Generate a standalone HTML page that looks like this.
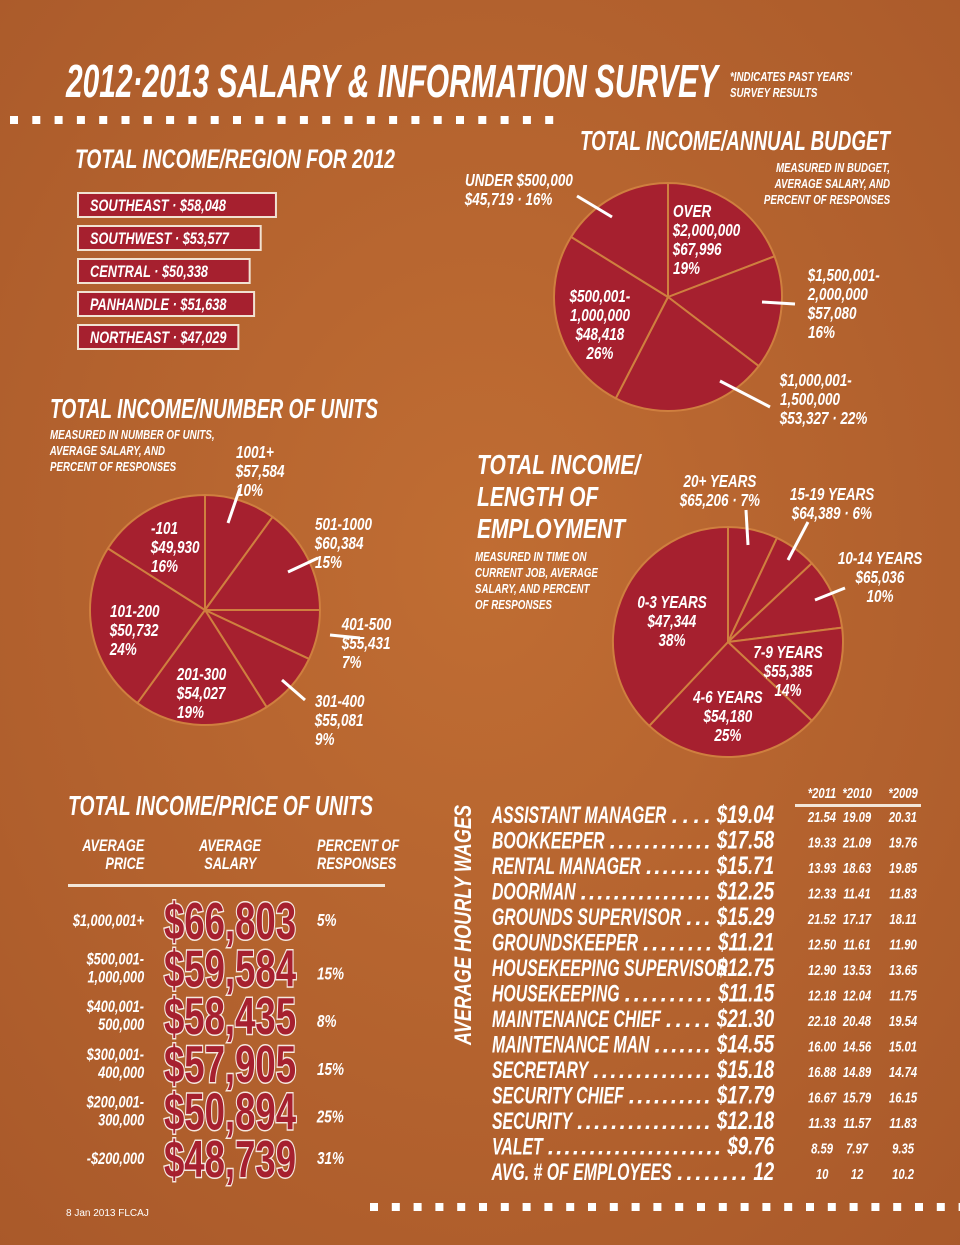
<!DOCTYPE html>
<html><head><meta charset="utf-8">
<style>
html,body{margin:0;padding:0;background:#b9662f;}
svg{display:block;}
text{font-family:"Liberation Sans Narrow","Liberation Sans",sans-serif;font-weight:bold;font-style:italic;fill:#fff;
 transform-box:fill-box;transform-origin:left center;transform:scaleX(.75);}
text[text-anchor="end"]{transform-origin:right center;}
text[text-anchor="middle"]{transform-origin:center center;}
text.nt{transform:none;}
text.wj{transform:scaleX(.66);}
</style></head>
<body>
<svg id="c" width="960" height="1245" viewBox="0 0 960 1245" xmlns="http://www.w3.org/2000/svg">
<defs>
<radialGradient id="bg" cx="50%" cy="45%" r="75%">
<stop offset="0" stop-color="#c06d33"/><stop offset="1" stop-color="#a9592a"/>
</radialGradient>
</defs>
<rect width="960" height="1245" fill="url(#bg)"/>
<g id="dots1"></g>
<g id="dots2"></g>

<text class="nt" x="66" y="97" font-size="46" textLength="652" lengthAdjust="spacingAndGlyphs">2012·2013 SALARY &amp; INFORMATION SURVEY</text>
<text x="730" y="81" font-size="13">*INDICATES PAST YEARS'</text>
<text x="730" y="97" font-size="13">SURVEY RESULTS</text>

<text class="nt" x="75" y="168" font-size="27" textLength="320" lengthAdjust="spacingAndGlyphs">TOTAL INCOME/REGION FOR 2012</text>
<g id="regions"></g>

<text class="nt" x="580" y="150" font-size="28" textLength="310" lengthAdjust="spacingAndGlyphs">TOTAL INCOME/ANNUAL BUDGET</text>
<g font-size="13">
<text x="890" y="172" text-anchor="end">MEASURED IN BUDGET,</text>
<text x="890" y="188" text-anchor="end">AVERAGE SALARY, AND</text>
<text x="890" y="204" text-anchor="end">PERCENT OF RESPONSES</text>
</g>
<g id="pie2"></g>

<text class="nt" x="50" y="418" font-size="28" textLength="328" lengthAdjust="spacingAndGlyphs">TOTAL INCOME/NUMBER OF UNITS</text>
<g font-size="13">
<text x="50" y="439">MEASURED IN NUMBER OF UNITS,</text>
<text x="50" y="455">AVERAGE SALARY, AND</text>
<text x="50" y="471">PERCENT OF RESPONSES</text>
</g>
<g id="pie1"></g>

<g font-size="28">
<text x="477" y="474">TOTAL INCOME/</text>
<text x="477" y="506">LENGTH OF</text>
<text x="477" y="538">EMPLOYMENT</text>
</g>
<g font-size="13">
<text x="475" y="561">MEASURED IN TIME ON</text>
<text x="475" y="577">CURRENT JOB, AVERAGE</text>
<text x="475" y="593">SALARY, AND PERCENT</text>
<text x="475" y="609">OF RESPONSES</text>
</g>
<g id="pie3"></g>

<text class="nt" x="68" y="815" font-size="28" textLength="305" lengthAdjust="spacingAndGlyphs">TOTAL INCOME/PRICE OF UNITS</text>
<g font-size="17">
<text x="144" y="851" text-anchor="end">AVERAGE</text>
<text x="144" y="869" text-anchor="end">PRICE</text>
<text x="230" y="851" text-anchor="middle">AVERAGE</text>
<text x="230" y="869" text-anchor="middle">SALARY</text>
<text x="317" y="851">PERCENT OF</text>
<text x="317" y="869">RESPONSES</text>
</g>
<rect x="68" y="884" width="317" height="3" fill="#f3e6d8"/>
<g id="prices"></g>

<g transform="translate(471,1045) rotate(-90)">
<text class="nt" x="0" y="0" font-size="24" textLength="240" lengthAdjust="spacingAndGlyphs">AVERAGE HOURLY WAGES</text>
</g>
<rect x="795" y="804" width="126" height="3" fill="#f3e6d8"/>
<g id="wages"></g>

<text class="nt" x="66" y="1216" font-size="10" style="font-style:normal;font-weight:normal">8   Jan 2013   FLCAJ</text>
</svg>
<script>
// ---------- data ----------
const regionNames = ["SOUTHEAST", "SOUTHWEST", "CENTRAL", "PANHANDLE", "NORTHEAST"];
const regionValues = [58048, 53577, 50338, 51638, 47029];

const unitsPct = [10, 15, 7, 9, 19, 24, 16];
const budgetPct = [19, 16, 22, 26, 16];
const employPct = [7, 6, 10, 14, 25, 38];

const priceLabels = [["$1,000,001+"], ["$500,001-", "1,000,000"], ["$400,001-", "500,000"], ["$300,001-", "400,000"], ["$200,001-", "300,000"], ["-$200,000"]];
const priceSalaries = [66803, 59584, 58435, 57905, 50894, 48739];
const pricePct = [5, 15, 8, 15, 25, 31];

const wageJobs = ["ASSISTANT MANAGER", "BOOKKEEPER", "RENTAL MANAGER", "DOORMAN", "GROUNDS SUPERVISOR", "GROUNDSKEEPER", "HOUSEKEEPING SUPERVISOR", "HOUSEKEEPING", "MAINTENANCE CHIEF", "MAINTENANCE MAN", "SECRETARY", "SECURITY CHIEF", "SECURITY", "VALET", "AVG. # OF EMPLOYEES"];
const wage2012 = ["$19.04", "$17.58", "$15.71", "$12.25", "$15.29", "$11.21", "$12.75", "$11.15", "$21.30", "$14.55", "$15.18", "$17.79", "$12.18", "$9.76", "12"];
const wage2011 = ["21.54", "19.33", "13.93", "12.33", "21.52", "12.50", "12.90", "12.18", "22.18", "16.00", "16.88", "16.67", "11.33", "8.59", "10"];
const wage2010 = ["19.09", "21.09", "18.63", "11.41", "17.17", "11.61", "13.53", "12.04", "20.48", "14.56", "14.89", "15.79", "11.57", "7.97", "12"];
const wage2009 = ["20.31", "19.76", "19.85", "11.83", "18.11", "11.90", "13.65", "11.75", "19.54", "15.01", "14.74", "16.15", "11.83", "9.35", "10.2"];
const wageYears = ["*2011", "*2010", "*2009"];

// ---------- helpers ----------
const NS = "http://www.w3.org/2000/svg";
function mk(tag, attrs, parent) {
  const e = document.createElementNS(NS, tag);
  for (const k in attrs) e.setAttribute(k, attrs[k]);
  parent.appendChild(e);
  return e;
}
function txt(parent, x, y, s, size, anchor) {
  const t = mk("text", {x: x, y: y, "font-size": size, "text-anchor": anchor || "start"}, parent);
  t.textContent = s;
  return t;
}
const fmt = v => "$" + v.toLocaleString("en-US");
const RED = "#a6202f";

// dotted dividers
(function(){
  const g1 = document.getElementById("dots1");
  for (let x = 10; x < 560; x += 22.3) {
    const r = mk("rect", {x: x, y: 116, width: 8, height: 8, fill: "#fff"}, g1);
    
    
  }
  const g2 = document.getElementById("dots2");
  for (let x = 370; x < 960; x += 21.8) {
    const r = mk("rect", {x: x, y: 1203, width: 8, height: 8, fill: "#fff"}, g2);
    
    
  }
})();

// region bars
(function(){
  const g = document.getElementById("regions");
  const sx = v => v * 0.00341;
  regionValues.forEach((v, i) => {
    const y = 193 + i * 33;
    const r = mk("rect", {x: 78, y: y, width: sx(v), height: 24, fill: RED, stroke: "#f1e2d2", "stroke-width": 2}, g);
    
    
    const t = txt(g, 90, y + 18, regionNames[i] + " · " + fmt(v), 17);
    
    
  });
})();

// pies
function pie(id, cx, cy, r, pcts) {
  const g = document.getElementById(id);
  const tot = pcts.reduce((a, b) => a + b, 0);
  const disc = mk("circle", {cx: cx, cy: cy, r: r, fill: RED}, g);
  
  
  let a = -Math.PI / 2;
  const angs = [];
  pcts.forEach(p => { angs.push(a); a += p / tot * 2 * Math.PI; });
  angs.forEach((a0, i) => {
    const a1 = i + 1 < angs.length ? angs[i + 1] : angs[0] + 2 * Math.PI;
    const large = (a1 - a0) > Math.PI ? 1 : 0;
    const p = mk("path", {d: `M${cx},${cy} L${cx + r * Math.cos(a0)},${cy + r * Math.sin(a0)} A${r},${r} 0 ${large} 1 ${cx + r * Math.cos(a1)},${cy + r * Math.sin(a1)} Z`, fill: RED, stroke: "#cf7f3f", "stroke-width": 2}, g);
    
    
  });
}
pie("pie1", 205, 610, 115, unitsPct);
pie("pie2", 668, 297, 114, budgetPct);
pie("pie3", 728, 642, 115, employPct);

// pie labels
function labels(id, items) {
  const g = document.getElementById(id);
  items.forEach(it => {
    if (it.line) {
      const l = mk("line", {x1: it.line[0], y1: it.line[1], x2: it.line[2], y2: it.line[3], stroke: "#fff", "stroke-width": 3}, g);
      
      
    }
    it.lines.forEach((s, k) => {
      const t = txt(g, it.x, it.y + k * 19, s, 18, it.a || "start");
      
      
    });
  });
}
labels("pie1", [
  {x: 236, y: 458, lines: ["1001+", "$57,584", "10%"], line: [240, 488, 228, 523]},
  {x: 315, y: 530, lines: ["501-1000", "$60,384", "15%"], line: [318, 558, 288, 572]},
  {x: 342, y: 630, lines: ["401-500", "$55,431", "7%"], line: [360, 638, 330, 635]},
  {x: 315, y: 707, lines: ["301-400", "$55,081", "9%"], line: [305, 700, 282, 680]},
  {x: 151, y: 534, lines: ["-101", "$49,930", "16%"]},
  {x: 110, y: 617, lines: ["101-200", "$50,732", "24%"]},
  {x: 177, y: 680, lines: ["201-300", "$54,027", "19%"]},
]);
labels("pie2", [
  {x: 465, y: 186, lines: ["UNDER $500,000", "$45,719 · 16%"], line: [577, 196, 612, 217]},
  {x: 673, y: 217, lines: ["OVER", "$2,000,000", "$67,996", "19%"]},
  {x: 808, y: 281, lines: ["$1,500,001-", "2,000,000", "$57,080", "16%"], line: [762, 302, 795, 304]},
  {x: 780, y: 386, lines: ["$1,000,001-", "1,500,000", "$53,327 · 22%"], line: [720, 381, 770, 407]},
  {x: 600, y: 302, a: "middle", lines: ["$500,001-", "1,000,000", "$48,418", "26%"]},
]);
labels("pie3", [
  {x: 720, y: 487, a: "middle", lines: ["20+ YEARS", "$65,206 · 7%"], line: [746, 510, 748, 545]},
  {x: 832, y: 500, a: "middle", lines: ["15-19 YEARS", "$64,389 · 6%"], line: [808, 522, 788, 560]},
  {x: 880, y: 564, a: "middle", lines: ["10-14 YEARS", "$65,036", "10%"], line: [845, 588, 815, 600]},
  {x: 672, y: 608, a: "middle", lines: ["0-3 YEARS", "$47,344", "38%"]},
  {x: 788, y: 658, a: "middle", lines: ["7-9 YEARS", "$55,385", "14%"]},
  {x: 728, y: 703, a: "middle", lines: ["4-6 YEARS", "$54,180", "25%"]},
]);

// price table
(function(){
  const g = document.getElementById("prices");
  priceSalaries.forEach((v, i) => {
    const cy = 920 + i * 47.6;
    const lab = priceLabels[i];
    lab.forEach((s, k) => {
      const y = lab.length === 1 ? cy + 6 : cy - 3 + k * 18;
      const t = txt(g, 144, y, s, 17, "end");
      
      
    });
    const big = txt(g, 230, cy + 19, fmt(v), 52, "middle");
    big.setAttribute("class", "nt");
    big.setAttribute("style", "font-style:normal;fill:" + RED + ";stroke:#f5e8e0;stroke-width:3;paint-order:stroke");
    big.setAttribute("textLength", "132");
    big.setAttribute("lengthAdjust", "spacingAndGlyphs");
    
    
    const p = txt(g, 317, cy + (lab.length === 1 ? 6 : 12), pricePct[i] + "%", 18);
    
    
  });
})();

// wages table
(function(){
  const g = document.getElementById("wages");
  const cols = [822, 857, 903];
  const SJ = 0.66;
  wageYears.forEach((s, i) => {
    const t = txt(g, cols[i], 798, s, 15, "middle");
    
    
  });
  wageJobs.forEach((job, i) => {
    const y = 823 + i * 25.5;
    const j = txt(g, 492, y, job, 24);
    j.setAttribute("class", "wj");
    
    
    const w = (j.getComputedTextLength ? j.getComputedTextLength() : 200) * SJ;
    const x0 = 492 + w + 5;
    const v = txt(g, 774, y, wage2012[i], 25, "end");
    
    
    const vw = (v.getComputedTextLength ? v.getComputedTextLength() : 60) * 0.75;
    const x1 = 774 - vw - 6;
    if (x1 - x0 > 6) {
      const d = txt(g, x0, y, ".".repeat(Math.max(1, Math.floor((x1 - x0) / 8))), 23);
      d.setAttribute("class", "nt");
      d.setAttribute("textLength", x1 - x0);
      d.setAttribute("lengthAdjust", "spacing");
      
      
    }
    [wage2011, wage2010, wage2009].forEach((arr, c) => {
      const t = txt(g, cols[c], y - 1, arr[i], 15, "middle");
      
      
    });
  });
})();
</script>
</body></html>
